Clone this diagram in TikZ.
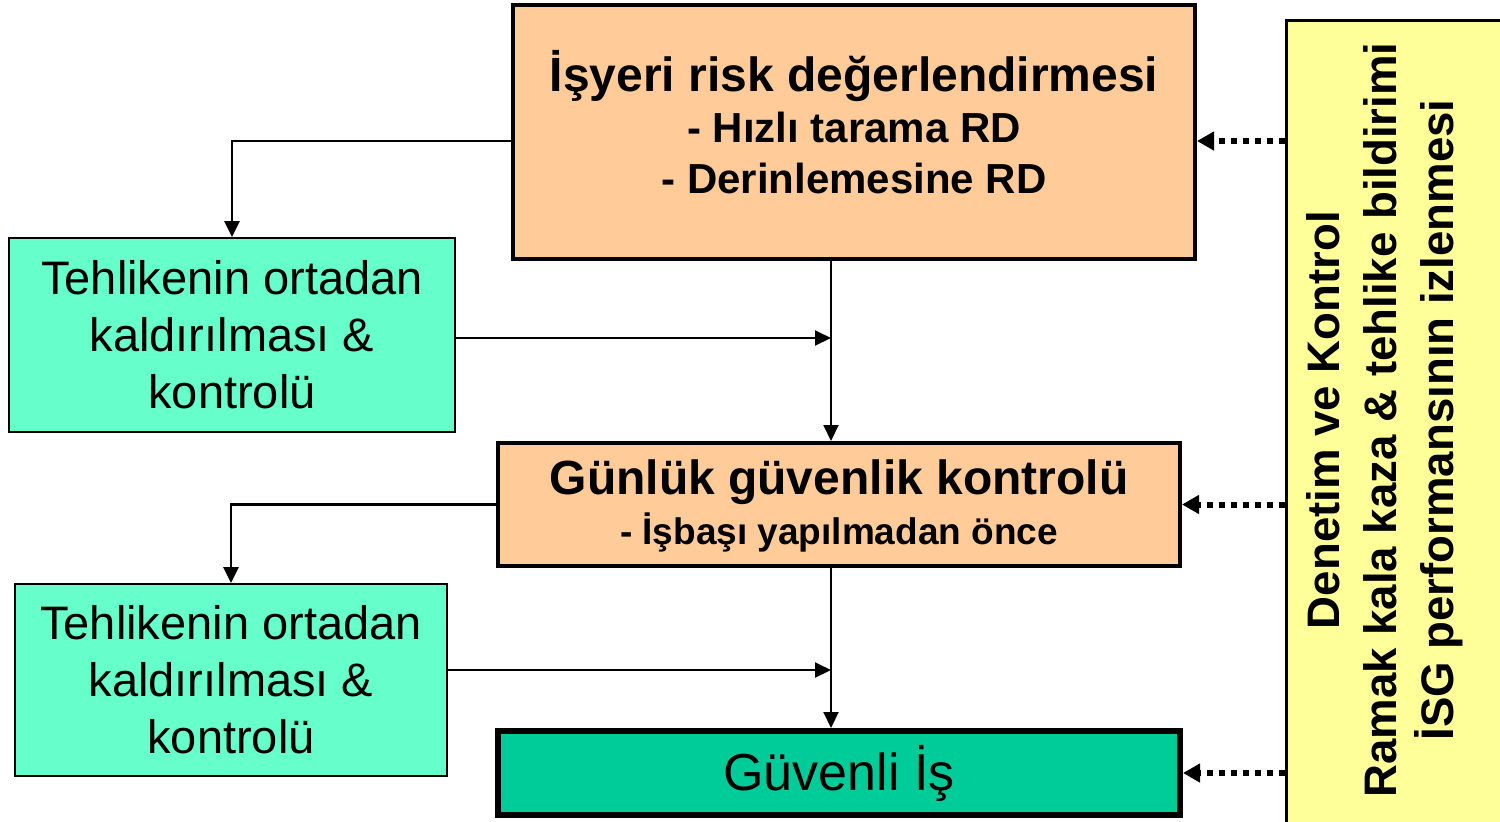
\documentclass[tikz,border=0pt]{standalone}
\usepackage{fontspec}
\setmainfont{Liberation Sans}
\usetikzlibrary{arrows.meta, calc}

\definecolor{peach}{RGB}{255,204,153}
\definecolor{mint}{RGB}{102,255,204}
\definecolor{jade}{RGB}{0,204,153}
\definecolor{lemon}{RGB}{255,255,153}

\begin{document}
\begin{tikzpicture}[x=0.5pt, y=-0.5pt,
    stage/.style = {draw, line width=2pt, fill=peach, align=center},
    fix/.style = {draw, line width=1pt, fill=mint, align=center,
        minimum height=97pt, font=\fontsize{23.5}{28.5}\selectfont},
    link/.style = {line width=1pt, -{Triangle[length=8pt, width=7.5pt]}},
    watch/.style = {line width=3pt, dash pattern=on 3pt off 3pt,
        -{Triangle[length=8.5pt, width=9pt]}}]
    \useasboundingbox (0,0) rectangle (1500,821);
    \coordinate (spine) at (831,0);

    % main flow
    \node[stage, minimum width=341pt, minimum height=127pt, text depth=10pt,
        font=\bfseries\fontsize{21}{25.5}\selectfont] (risk) at (854,132)
        {{\fontsize{24}{25.5}\selectfont İşyeri risk değerlendirmesi}\\
         - Hızlı tarama RD\\
         - Derinlemesine RD};
    \node[stage, minimum width=341pt, minimum height=61.5pt, text depth=2pt,
        font=\bfseries\fontsize{18.5}{25}\selectfont] (daily) at (839,504.5)
        {{\fontsize{24}{25}\selectfont Günlük güvenlik kontrolü}\\
         - İşbaşı yapılmadan önce};
    \node[draw, line width=3pt, fill=jade, minimum width=341pt, minimum height=42pt,
        font=\fontsize{26}{28}\selectfont] (safe) at (839,773) {Güvenli İş};

    % side boxes
    \node[fix, minimum width=223pt] (elim1) at (232,335)
        {Tehlikenin ortadan\\kaldırılması \&\\kontrolü};
    \node[fix, minimum width=216pt, minimum height=96pt] (elim2) at (231,680)
        {Tehlikenin ortadan\\kaldırılması \&\\kontrolü};

    % monitoring column
    \node[draw, line width=1.5pt, fill=lemon, minimum width=115pt, minimum height=405pt]
        (audit) at (1401,425) {};
    \node[rotate=90, align=center, font=\bfseries\fontsize{22.8}{28.5}\selectfont]
        (auditnote) at (1385,420)
        {Denetim ve Kontrol\\Ramak kala kaza \& tehlike bildirimi\\İSG performansının izlenmesi};

    % connectors
    \draw[link, line width=1.4pt] ([yshift=-4.5pt]risk.west) -| (elim1.north);
    \draw[link] (risk.south -| spine) -- (daily.north -| spine);
    \draw[link] ([yshift=-1.5pt]elim1.east) -- ([yshift=-1.5pt]elim1.east -| spine);
    \draw[link, line width=1.4pt] (daily.west) -| (elim2.north);
    \draw[link] (daily.south -| spine) -- (safe.north -| spine);
    \draw[link] ([yshift=5pt]elim2.east) -- ([yshift=5pt]elim2.east -| spine);

    \draw[watch] (audit.west |- 0,141) -- (risk.east |- 0,141);
    \draw[watch] (audit.west |- daily.east) -- (daily.east);
    \draw[watch] (audit.west |- safe.east) -- (safe.east);
\end{tikzpicture}
\end{document}
